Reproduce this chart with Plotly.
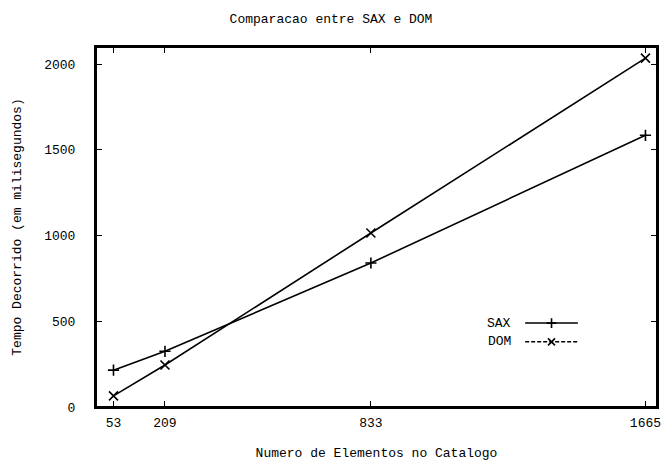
import plotly.graph_objects as go

elementos = [53, 209, 833, 1665]
sax_ms = [215, 325, 840, 1585]
dom_ms = [65, 245, 1015, 2035]
x_tick_labels = ["53", "209", "833", "1665"]
y_ticks = [0, 500, 1000, 1500, 2000]
series_names = ["SAX", "DOM"]

FONT = "Liberation Mono"
fig = go.Figure()

fig.add_trace(go.Scatter(x=elementos, y=sax_ms, mode="lines+markers", name=series_names[0],
                         line=dict(color="black", width=1.6),
                         marker=dict(symbol="cross-thin-open", size=8, color="black",
                                     line=dict(color="black", width=1.6)),
                         showlegend=False))
fig.add_trace(go.Scatter(x=elementos, y=dom_ms, mode="lines+markers", name=series_names[1],
                         line=dict(color="black", width=1.6),
                         marker=dict(symbol="x-thin-open", size=9, color="black",
                                     line=dict(color="black", width=1.6)),
                         showlegend=False))

# legend samples (gnuplot style: text left, sample right) on an overlay axis 0..1
leg_y = [0.233, 0.181]
leg_styles = [("solid", "cross-thin-open"), ("4px,2px", "x-thin-open")]
for name, yy, (dash, sym) in zip(series_names, leg_y, leg_styles):
    fig.add_trace(go.Scatter(x=[0.765, 0.859], y=[yy, yy], xaxis="x2", yaxis="y2", mode="lines",
                             line=dict(color="black", width=1.5, dash=dash), showlegend=False,
                             hoverinfo="skip"))
    fig.add_trace(go.Scatter(x=[0.812], y=[yy], xaxis="x2", yaxis="y2", mode="markers",
                             marker=dict(symbol=sym, size=7, color="black",
                                         line=dict(color="black", width=1.6)),
                             showlegend=False, hoverinfo="skip"))
    fig.add_annotation(x=0.743, y=yy, xref="paper", yref="paper", text=name, showarrow=False,
                       xanchor="right", yanchor="middle", font=dict(family=FONT, size=13, color="black"))

# plot frame
fig.add_shape(type="rect", xref="paper", yref="paper", x0=0, y0=0, x1=1, y1=1,
              line=dict(color="black", width=2), layer="above")

axis_common = dict(showgrid=False, zeroline=False, showline=True, linecolor="black", linewidth=2,
                   mirror="ticks", ticks="inside", ticklen=6, tickwidth=1.2, tickcolor="black",
                   automargin=False,
                   tickfont=dict(family=FONT, size=13, color="black"))

fig.update_layout(
    width=667, height=461,
    margin=dict(l=96, r=10, t=47, b=54),
    paper_bgcolor="white", plot_bgcolor="white",
    title=dict(text="Comparacao entre SAX e DOM", x=331 / 667, xanchor="center",
               y=1 - 18 / 461, yanchor="middle", font=dict(family=FONT, size=13, color="black")),
    xaxis=dict(range=[0, 1700], tickvals=elementos, ticktext=x_tick_labels,
               title=dict(text="Numero de Elementos no Catalogo", standoff=18,
                          font=dict(family=FONT, size=13, color="black")),
               ticklabelstandoff=2, **axis_common),
    yaxis=dict(range=[0, 2100], tickvals=y_ticks, ticktext=[str(v) for v in y_ticks],
               title=dict(text="Tempo Decorrido (em milisegundos)", standoff=20,
                          font=dict(family=FONT, size=13, color="black")),
               ticklabelstandoff=16, **axis_common),
    xaxis2=dict(range=[0, 1], overlaying="x", visible=False, fixedrange=True),
    yaxis2=dict(range=[0, 1], overlaying="y", visible=False, fixedrange=True),
    showlegend=False,
)

fig.write_html("out.html", config={"displayModeBar": False},
               post_script="document.body.style.margin='0px';")
